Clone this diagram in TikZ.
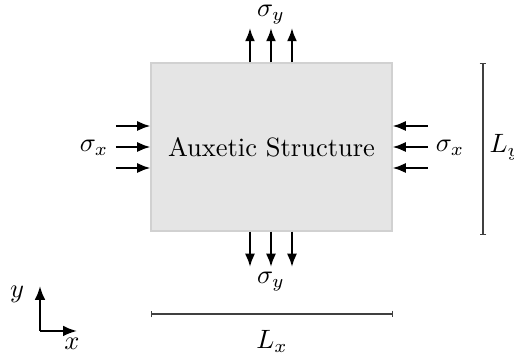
\documentclass[tikz,border=0pt]{standalone}
\usetikzlibrary{arrows.meta,calc}
\begin{document}
\begin{tikzpicture}[x=0.3774pt,y=-0.3774pt,
  load/.style={line width=0.8pt,-{Latex[length=5pt,width=3.8pt]}},
  axis/.style={line width=0.8pt,-{Latex[length=5.2pt,width=4pt]}},
  dim/.style={line width=0.5pt,black!75,{Bar[width=2.6pt]}-{Bar[width=2.6pt]}},
  lbl/.style={inner sep=0pt}]
\useasboundingbox (0,0) rectangle (514,358);
\node[draw=black!18,fill=black!10,line width=0.4pt,minimum width=90.95pt,minimum height=63.4pt,inner sep=0pt] (box) at (271.5,147) {Auxetic Structure};
% top and bottom loads
\foreach \i/\x in {1/250,2/271,3/292}{
  \coordinate (t\i) at (\x,28);
  \draw[load] (box.north -| t\i) -- (t\i);
  \coordinate (b\i) at (\x,267);
  \draw[load] (box.south -| b\i) -- (b\i);
}
% left and right loads
\foreach \i/\y in {1/126,2/147,3/168}{
  \coordinate (l\i) at (116,\y);
  \draw[load] (l\i) -- (box.west |- l\i);
  \coordinate (r\i) at (428,\y);
  \draw[load] (r\i) -- (box.east |- r\i);
}
\node[lbl] (sytop) at (271,15) {$\sigma_y$};
\node[lbl] (sybot) at (271,282) {$\sigma_y$};
\node[lbl] (sxl) at (94,148) {$\sigma_x$};
\node[lbl] (sxr) at (450,148) {$\sigma_x$};
% dimensions
\coordinate (ly1) at (483,63);
\coordinate (ly2) at (483,235);
\draw[dim] (ly1) -- (ly2);
\node[lbl,anchor=west] (Ly) at (489,147) {$L_y$};
\coordinate (lx1) at (151,314);
\coordinate (lx2) at (393,314);
\draw[dim] (lx1) -- (lx2);
\node[lbl] (Lx) at (272,341) {$L_x$};
% axes
\coordinate (o) at (40,331);
\coordinate (ay) at (40,286);
\coordinate (ax) at (77,331);
\draw[axis] (o) -- (ay);
\draw[axis] (o) -- (ax);
\node[lbl] (ylab) at (17,294) {$y$};
\node[lbl] (xlab) at (72,344) {$x$};
\end{tikzpicture}
\end{document}
